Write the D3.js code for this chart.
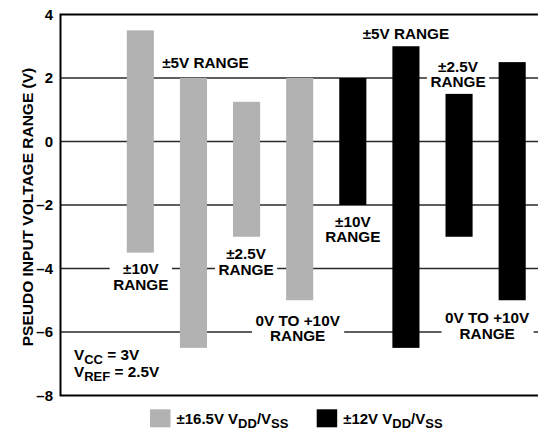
<!DOCTYPE html>
<html>
<head>
<meta charset="utf-8">
<script src="https://cdn.jsdelivr.net/npm/d3@7/dist/d3.min.js"></script>
<style>
  html, body { margin: 0; padding: 0; background: #fff; }
  svg { display: block; }
  text { font-family: "Liberation Sans", Arial, Helvetica, sans-serif; font-weight: bold; fill: #000; }
</style>
</head>
<body>
<svg id="chart" width="538" height="431"></svg>
<script>
// Supply voltage group and selected input range for each bar
const supplies = ["±16.5V", "±16.5V", "±16.5V", "±16.5V", "±12V", "±12V", "±12V", "±12V"];
const ranges = ["±10V", "±5V", "±2.5V", "0V TO +10V", "±10V", "±5V", "±2.5V", "0V TO +10V"];
// Pseudo input voltage span (V) for each bar
const lowValues = [-3.5, -6.5, -3, -5, -2, -6.5, -3, -5];
const highValues = [3.5, 2, 1.25, 2, 2, 3, 1.5, 2.5];
const yTicks = [-8, -6, -4, -2, 0, 2, 4];
const legendItems = [
  { supply: "±16.5V", label: "±16.5V " },
  { supply: "±12V", label: "±12V " }
];
const conditions = [
  { name: "V", sub: "CC", rest: " = 3V" },
  { name: "V", sub: "REF", rest: " = 2.5V" }
];

const categories = supplies.map((s, i) => s + " " + ranges[i]);

// Layout
const plotLeft = 60.5, plotTop = 14.5, plotBottom = 395.5, plotRight = 600;
const svg = d3.select("#chart");

const y = d3.scaleLinear().domain([-8, 4]).range([plotBottom, plotTop]);
const x = d3.scaleBand().domain(categories).range([113.5, 539])
  .paddingInner(0.49).paddingOuter(0.25);
const color = d3.scaleOrdinal().domain(["±16.5V", "±12V"]).range(["#b2b2b2", "#000000"]);

// Grid lines
svg.append("g").selectAll("line")
  .data(yTicks.filter(t => t > -8 && t < 4))
  .join("line")
  .attr("x1", plotLeft).attr("x2", plotRight)
  .attr("y1", d => y(d)).attr("y2", d => y(d))
  .attr("stroke", "#2a2a2a").attr("stroke-width", 1.3);

// Bars
svg.append("g").selectAll("rect")
  .data(categories)
  .join("rect")
  .attr("x", d => x(d))
  .attr("width", x.bandwidth())
  .attr("y", (d, i) => y(highValues[i]))
  .attr("height", (d, i) => y(lowValues[i]) - y(highValues[i]))
  .attr("fill", (d, i) => color(supplies[i]));

// Range annotations: first-line baseline (V) and horizontal nudge (px)
const labelAnchor = [-4.18, 2.3, -3.71, -5.8, -2.68, 3.24, 2.2, -5.73];
const labelShift = [0.5, 12, -0.5, -2, 0, 0, -1, -25];
const knockout = [true, false, true, true, false, false, true, true];
const lineHeight = 15.4;

const labels = svg.append("g");
categories.forEach((c, i) => {
  const lines = ranges[i] === "±5V" ? [ranges[i] + " RANGE"] : [ranges[i], "RANGE"];
  const g = labels.append("g");
  const cx = x(c) + x.bandwidth() / 2 + labelShift[i];
  const t = g.append("text")
    .attr("text-anchor", "middle")
    .attr("font-size", 15.3);
  lines.forEach((ln, k) => {
    t.append("tspan")
      .attr("x", cx)
      .attr("y", y(labelAnchor[i]) + k * lineHeight)
      .text(ln);
  });
  if (knockout[i]) {
    const bb = t.node().getBBox();
    g.insert("rect", "text")
      .attr("x", bb.x - 3.5).attr("width", bb.width + 7)
      .attr("y", bb.y).attr("height", bb.height)
      .attr("fill", "#fff");
  }
});

// Frame (right edge runs off the canvas)
svg.append("path")
  .attr("d", `M${plotRight},${plotTop}H${plotLeft}V${plotBottom}H${plotRight}`)
  .attr("fill", "none").attr("stroke", "#000").attr("stroke-width", 2);

// Y axis tick labels
const yAxis = d3.axisLeft(y).tickValues(yTicks).tickSize(0).tickPadding(7.5)
  .tickFormat(d => d < 0 ? "–" + Math.abs(d) : String(d));
const ax = svg.append("g").attr("transform", `translate(${plotLeft},0)`).call(yAxis);
ax.select(".domain").remove();
ax.selectAll("text")
  .attr("font-size", 15)
  .attr("font-family", "'Liberation Sans', Arial, sans-serif")
  .attr("font-weight", "bold")
  .attr("fill", "#000");

// Y axis title
svg.append("text")
  .attr("transform", `translate(33,${(plotTop + plotBottom) / 2 + 2}) rotate(-90)`)
  .attr("text-anchor", "middle")
  .attr("font-size", 15.5)
  .text("PSEUDO INPUT VOLTAGE RANGE (V)");

// Operating conditions
conditions.forEach((c, k) => {
  const t = svg.append("text")
    .attr("x", 74).attr("y", 360 + k * 16.7)
    .attr("font-size", 15.3);
  t.append("tspan").text(c.name);
  t.append("tspan").attr("font-size", 13).attr("dy", 4).text(c.sub);
  t.append("tspan").attr("dy", -4).text(c.rest);
});

// Legend
const legendX = [150, 316.7];
legendItems.forEach((item, k) => {
  svg.append("rect")
    .attr("x", legendX[k]).attr("y", 409.3)
    .attr("width", 20.5).attr("height", 18)
    .attr("fill", color(item.supply));
  const t = svg.append("text")
    .attr("x", legendX[k] + 26.5).attr("y", 424.3)
    .attr("font-size", 15);
  t.append("tspan").text(item.label + "V");
  t.append("tspan").attr("font-size", 13).attr("dy", 3.5).text("DD");
  t.append("tspan").attr("dy", -3.5).text("/V");
  t.append("tspan").attr("font-size", 13).attr("dy", 3.5).text("SS");
});
</script>
</body>
</html>
